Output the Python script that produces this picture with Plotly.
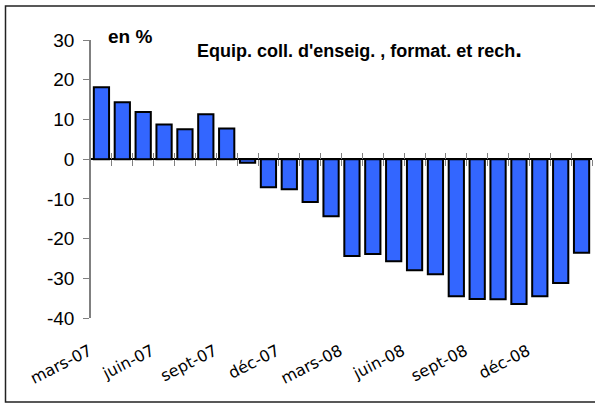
import plotly.graph_objects as go

months = ["mars-07", "avr-07", "mai-07", "juin-07", "juil-07", "août-07", "sept-07", "oct-07",
          "nov-07", "déc-07", "janv-08", "févr-08", "mars-08", "avr-08", "mai-08", "juin-08",
          "juil-08", "août-08", "sept-08", "oct-08", "nov-08", "déc-08", "janv-09", "févr-09"]
values = [18.1, 14.3, 11.9, 8.7, 7.5, 11.3, 7.7, -0.9, -7.1, -7.6, -10.8, -14.4,
          -24.4, -23.9, -25.7, -28.0, -29.0, -34.5, -35.2, -35.3, -36.5, -34.5, -31.2, -23.6]
tick_labels = ["mars-07", "juin-07", "sept-07", "déc-07", "mars-08", "juin-08", "sept-08", "déc-08"]
y_tickvals = [-40, -30, -20, -10, 0, 10, 20, 30]
y_ticktext = ["-40", "-30", "-20", "-10", "0", "10", "20", "30"]

y_min, y_max = -40, 30
xpos = list(range(len(months)))
tickvals = [months.index(t) for t in tick_labels]
boundaries = [i + 0.5 for i in xpos]
x_range = [-0.5, len(months) - 0.5]
zero_pos = (0 - y_min) / (y_max - y_min)

fig = go.Figure()
fig.add_trace(go.Bar(
    x=xpos, y=values, hovertext=months, hoverinfo="text+y",
    marker=dict(color="#3366FF", line=dict(color="black", width=2)),
))
# empty traces so the zero-line axes (with crossing boundary ticks) get drawn
fig.add_trace(go.Scatter(x=[], y=[], xaxis="x2", yaxis="y", showlegend=False, hoverinfo="skip"))
fig.add_trace(go.Scatter(x=[], y=[], xaxis="x3", yaxis="y", showlegend=False, hoverinfo="skip"))

W, H = 595, 405
ml, mr, mt, mb = 91, 3, 40, 87
pw, ph = W - ml - mr, H - mt - mb

def px_x(p):
    return (p - ml) / pw

def px_y(p):
    return (H - mb - p) / ph

fl, fr, ft, fb = px_x(5.5), px_x(600), px_y(6), px_y(402)
frame_path = f"M {fr} {ft} L {fl} {ft} L {fl} {fb} L {fr} {fb}"

fig.update_layout(
    width=W, height=H,
    margin=dict(l=ml, r=mr, t=mt, b=mb),
    paper_bgcolor="white", plot_bgcolor="white",
    showlegend=False, bargap=0.27,
    font=dict(family="Liberation Sans, Arial, sans-serif", color="black"),
    xaxis=dict(
        range=x_range, tickmode="array", tickvals=tickvals, ticktext=tick_labels,
        tickangle=-27, ticks="", showline=False, showgrid=False, zeroline=False,
        tickfont=dict(family="DejaVu Sans, Verdana, sans-serif", size=16, color="black"),
        ticklabelshift=-12, ticklabelstandoff=20,
    ),
    xaxis2=dict(
        overlaying="x", anchor="free", position=zero_pos, range=x_range,
        tickmode="array", tickvals=boundaries, ticks="outside", ticklen=6,
        tickcolor="#808080", tickwidth=1, showticklabels=False,
        showline=True, linecolor="black", linewidth=2, showgrid=False, zeroline=False,
        layer="below traces",
    ),
    xaxis3=dict(
        overlaying="x", anchor="free", position=zero_pos, range=x_range,
        tickmode="array", tickvals=boundaries, ticks="inside", ticklen=6,
        tickcolor="#808080", tickwidth=1, showticklabels=False,
        showline=False, showgrid=False, zeroline=False,
        layer="below traces",
    ),
    yaxis=dict(
        range=[y_min, y_max], tickmode="array", tickvals=y_tickvals, ticktext=y_ticktext,
        ticks="outside", ticklen=6,
        tickcolor="#808080", showline=True, linecolor="#808080", linewidth=1.5,
        showgrid=False, zeroline=False, ticklabelstandoff=5,
        tickfont=dict(size=19, color="black"),
    ),
    shapes=[dict(
        type="path", xref="paper", yref="paper", path=frame_path,
        line=dict(color="#222222", width=1.5), layer="below",
    )],
    annotations=[
        dict(text="<b>en %</b>", xref="paper", yref="paper", x=px_x(130), y=px_y(36),
             xanchor="center", yanchor="middle",
             showarrow=False, font=dict(size=19, color="black")),
        dict(text="<b>Equip. coll. d'enseig. , format. et rech</b><b><span style='font-size:24px'>.</span></b>",
             xref="paper", yref="paper", x=px_x(359), y=px_y(48),
             xanchor="center", yanchor="middle",
             showarrow=False, font=dict(size=18, color="black")),
    ],
)

fig.write_html("out.html", config={"displayModeBar": False},
               post_script="document.body.style.margin='0';document.body.style.padding='0';document.body.style.overflow='hidden';")
